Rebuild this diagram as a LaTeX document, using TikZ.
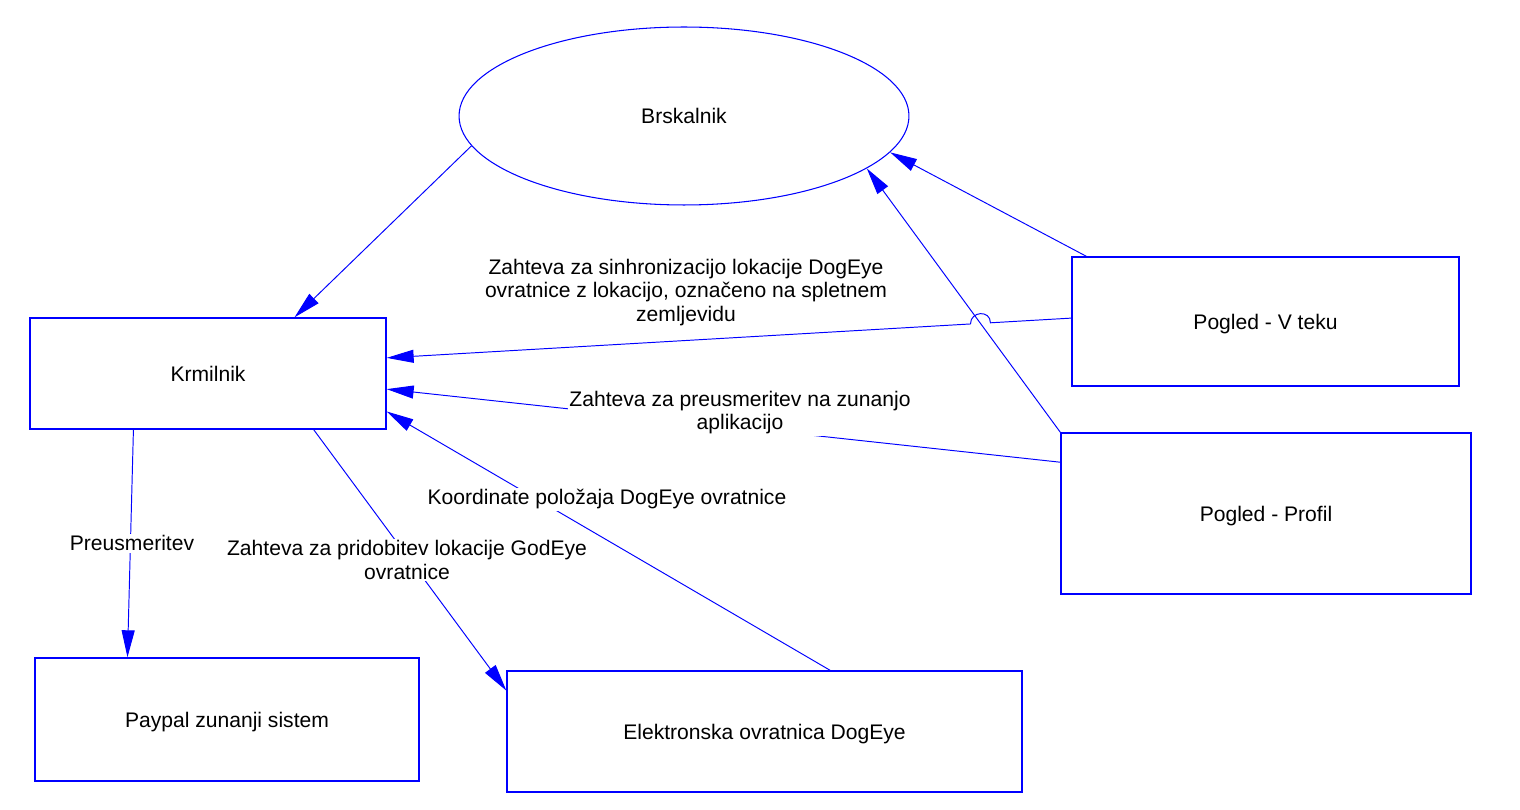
\documentclass[tikz,border=0pt]{standalone}
\usepackage{fontspec}
\setmainfont{Liberation Sans}
\usetikzlibrary{arrows.meta,calc,intersections,shapes.geometric}

\tikzset{
  box/.style={draw=blue, line width=0.8pt, inner sep=0pt, text depth=0pt, font=\fontsize{12}{13.4}\selectfont},
  oval/.style={ellipse, draw=blue, line width=0.6pt, inner sep=0pt, font=\fontsize{12}{13.4}\selectfont},
  flow/.style={draw=blue, line width=0.55pt, -{Triangle[length=0.54cm,width=0.26cm]}},
  lbl/.style={fill=white, inner sep=1pt, align=center, font=\fontsize{12}{13.4}\selectfont}
}

\begin{document}
\begin{tikzpicture}[x=0.02cm, y=-0.02cm]
\useasboundingbox (0,0) rectangle (1520,810);
\node[oval, minimum width=9cm, minimum height=3.56cm] (brskalnik) at (684,116) {Brskalnik}; % Brskalnik
\node[box, minimum width=7.12cm, minimum height=2.22cm] (krmilnik) at (208,373.5) {Krmilnik}; % Krmilnik
\node[box, minimum width=7.68cm, minimum height=2.46cm] (paypal) at (227,719.5) {Paypal zunanji sistem}; % Paypal
\node[box, minimum width=10.3cm, minimum height=2.42cm] (ovratnica) at (764.5,731.5) {Elektronska ovratnica DogEye}; % Ovratnica
\node[box, minimum width=7.74cm, minimum height=2.58cm] (vteku) at (1265.5,321.5) {Pogled - V teku}; % Pogled.1
\node[box, minimum width=8.2cm, minimum height=3.22cm] (profil) at (1266,513.5) {Pogled - Profil}; % Pogled.2
\draw[flow] (brskalnik.188) -- (krmilnik.33) ; % brs2krm
\draw[flow] (vteku.160) -- (brskalnik.-10) ; % vtk2brs
\draw[flow, name path=prof2brs] (profil.north west) -- (brskalnik.-16) ; % prof2brs
\path[name path=vtk2krm] (vteku.179) -- (krmilnik.5) ;
\path[name intersections={of=prof2brs and vtk2krm, by={hop}}] ;
\coordinate (hopR) at ($(hop)!0.2cm!(vteku.179)$) ;
\coordinate (hopL) at ($(hop)!0.2cm!(krmilnik.5)$) ;
\draw[flow] (vteku.179) -- (hopR) .. controls +(0,-13) and +(0,-13) .. (hopL) -- (krmilnik.5) ; % vtk2krm
\draw[flow] (profil.166) -- (krmilnik.-5) ; % prof2krm
\draw[flow] (ovratnica.43) -- (krmilnik.-12) ; % ovr2krm
\draw[flow] (krmilnik.-28) -- (ovratnica.171) ; % krm2ovr
\draw[flow] (krmilnik.217) -- (paypal.148) ; % krm2pay
\node[lbl] (lsync) at (686,292.5) {Zahteva za sinhronizacijo lokacije DogEye\\ovratnice z lokacijo, označeno na spletnem\\zemljevidu}; % vtk2krm
\node[lbl] (lredir) at (740,412.5) {Zahteva za preusmeritev na zunanjo\\aplikacijo}; % prof2krm
\node[lbl] (lcoord) at (607,499.5) {Koordinate položaja DogEye ovratnice}; % ovr2krm
\node[lbl] (lget) at (407,560) {Zahteva za pridobitev lokacije GodEye\\ovratnice}; % krm2ovr
\node[lbl] (lpay) at (132,543) {Preusmeritev}; % krm2pay
\end{tikzpicture}
\end{document}
